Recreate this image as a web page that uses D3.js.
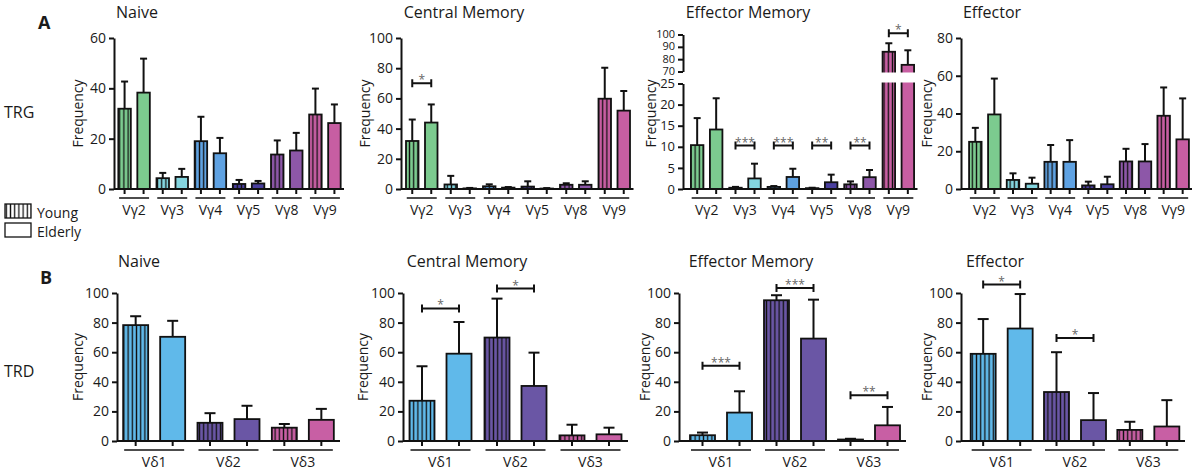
<!DOCTYPE html>
<html>
<head>
<meta charset="utf-8">
<title>TRG / TRD frequencies</title>
<script src="https://d3js.org/d3.v7.min.js"></script>
<style>
  body { margin: 0; background: #fff; }
  text { font-family: "Open Sans", "Noto Sans", sans-serif; fill: #1a1a1a; }
</style>
</head>
<body>
<div id="chart"></div>
<script>
// ---- data ----
const trgGenes = ["Vγ2", "Vγ3", "Vγ4", "Vγ5", "Vγ8", "Vγ9"];
const trdGenes = ["Vδ1", "Vδ2", "Vδ3"];
const trgColors = ["#7ccb8f", "#84d5df", "#5fa2e2", "#4a3f9e", "#8d57a8", "#c75ea2"];
const trdColors = ["#60b9ea", "#6a56a5", "#c85fa4"];

// TRG
const naiveTrgYoung      = [31.9, 4.3, 19.0, 2.0, 13.7, 29.6];
const naiveTrgYoungSd    = [10.8, 2.1, 9.7, 1.6, 5.6, 10.3];
const naiveTrgElderly    = [38.3, 4.8, 14.2, 2.2, 15.3, 26.2];
const naiveTrgElderlySd  = [13.5, 3.2, 6.1, 1.0, 7.0, 7.4];

const cmTrgYoung         = [31.8, 3.0, 1.8, 1.6, 2.8, 59.8];
const cmTrgYoungSd       = [14.2, 5.7, 1.3, 3.5, 1.0, 20.5];
const cmTrgElderly       = [44.0, 0.4, 0.9, 0.3, 2.8, 51.9];
const cmTrgElderlySd     = [12.0, 0.3, 0.4, 0.3, 2.3, 13.0];
const cmTrgSig           = [{ gene: "Vγ2", label: "*", at: 70 }];

const emTrgYoung         = [10.4, 0.3, 0.5, 0.2, 1.1, 86.0];
const emTrgYoungSd       = [6.4, 0.2, 0.2, 0.1, 0.7, 6.9];
const emTrgElderly       = [14.1, 2.5, 2.85, 1.6, 2.8, 75.4];
const emTrgElderlySd     = [7.4, 3.5, 1.95, 1.8, 1.7, 11.8];
const emTrgSig           = [
  { gene: "Vγ3", label: "***", at: 10.3 },
  { gene: "Vγ4", label: "***", at: 10.3 },
  { gene: "Vγ5", label: "**", at: 10.3 },
  { gene: "Vγ8", label: "**", at: 10.3 },
  { gene: "Vγ9", label: "*", at: 101 }
];

const effTrgYoung        = [25.0, 4.8, 14.4, 1.9, 14.6, 38.8];
const effTrgYoungSd      = [7.4, 3.5, 8.9, 2.0, 6.7, 15.0];
const effTrgElderly      = [39.5, 2.8, 14.4, 2.5, 14.6, 26.3];
const effTrgElderlySd    = [19.0, 3.2, 11.5, 4.0, 9.2, 21.7];

// TRD
const naiveTrdYoung      = [78.3, 12.3, 9.0];
const naiveTrdYoungSd    = [6.0, 6.5, 2.5];
const naiveTrdElderly    = [70.4, 14.8, 14.3];
const naiveTrdElderlySd  = [10.8, 9.0, 7.4];

const cmTrdYoung         = [27.2, 69.9, 3.8];
const cmTrdYoungSd       = [23.3, 26.3, 7.2];
const cmTrdElderly       = [59.0, 37.2, 4.5];
const cmTrdElderlySd     = [21.4, 22.5, 4.5];
const cmTrdSig           = [{ gene: "Vδ1", label: "*", at: 89.6 }, { gene: "Vδ2", label: "*", at: 103 }];

const emTrdYoung         = [3.9, 95.1, 1.0];
const emTrdYoungSd       = [1.8, 3.4, 0.5];
const emTrdElderly       = [19.2, 69.2, 10.6];
const emTrdElderlySd     = [14.4, 26.3, 12.4];
const emTrdSig           = [
  { gene: "Vδ1", label: "***", at: 50.8 },
  { gene: "Vδ2", label: "***", at: 103.4 },
  { gene: "Vδ3", label: "**", at: 30.9 }
];

const effTrdYoung        = [58.9, 33.1, 7.5];
const effTrdYoungSd      = [23.5, 26.9, 5.5];
const effTrdElderly      = [76.0, 14.1, 9.8];
const effTrdElderlySd    = [23.3, 18.3, 17.8];
const effTrdSig          = [{ gene: "Vδ1", label: "*", at: 105.7 }, { gene: "Vδ2", label: "*", at: 69.6 }];

// ---- layout ----
const rowA = { bottom: 189, top: 38, titleY: 18, barW: 12.5, off: 9.5, cap: 7, under: 15 };
const rowB = { bottom: 441, top: 293, titleY: 267, barW: 25, off: 18.5, cap: 11, under: 30 };

const panels = [
  { row: rowA, title: "Naive", genes: trgGenes, colors: trgColors, ymax: 60, step: 20,
    young: naiveTrgYoung, youngSd: naiveTrgYoungSd, elderly: naiveTrgElderly, elderlySd: naiveTrgElderlySd, sig: [],
    axisX: 114, x0: 115, x1: 344, titleX: 137, labelX: 78 },
  { row: rowA, title: "Central Memory", genes: trgGenes, colors: trgColors, ymax: 100, step: 20,
    young: cmTrgYoung, youngSd: cmTrgYoungSd, elderly: cmTrgElderly, elderlySd: cmTrgElderlySd, sig: cmTrgSig,
    axisX: 401, x0: 402.5, x1: 633.5, titleX: 464, labelX: 365 },
  { row: rowA, title: "Effector Memory", genes: trgGenes, colors: trgColors, broken: true,
    young: emTrgYoung, youngSd: emTrgYoungSd, elderly: emTrgElderly, elderlySd: emTrgElderlySd, sig: emTrgSig,
    axisX: 683, x0: 687.5, x1: 917.5, titleX: 748, labelX: 651 },
  { row: rowA, title: "Effector", genes: trgGenes, colors: trgColors, ymax: 80, step: 20,
    young: effTrgYoung, youngSd: effTrgYoungSd, elderly: effTrgElderly, elderlySd: effTrgElderlySd, sig: [],
    axisX: 961, x0: 966, x1: 1192, titleX: 992, labelX: 927 },
  { row: rowB, title: "Naive", genes: trdGenes, colors: trdColors, ymax: 100, step: 20,
    young: naiveTrdYoung, youngSd: naiveTrdYoungSd, elderly: naiveTrdElderly, elderlySd: naiveTrdElderlySd, sig: [],
    axisX: 117, x0: 117, x1: 340, titleX: 139, labelX: 78 },
  { row: rowB, title: "Central Memory", genes: trdGenes, colors: trdColors, ymax: 100, step: 20,
    young: cmTrdYoung, youngSd: cmTrdYoungSd, elderly: cmTrdElderly, elderlySd: cmTrdElderlySd, sig: cmTrdSig,
    axisX: 403, x0: 403, x1: 628, titleX: 467, labelX: 363 },
  { row: rowB, title: "Effector Memory", genes: trdGenes, colors: trdColors, ymax: 100, step: 20,
    young: emTrdYoung, youngSd: emTrdYoungSd, elderly: emTrdElderly, elderlySd: emTrdElderlySd, sig: emTrdSig,
    axisX: 679, x0: 684, x1: 906, titleX: 751, labelX: 645 },
  { row: rowB, title: "Effector", genes: trdGenes, colors: trdColors, ymax: 100, step: 20,
    young: effTrdYoung, youngSd: effTrdYoungSd, elderly: effTrdElderly, elderlySd: effTrdElderlySd, sig: effTrdSig,
    axisX: 961, x0: 965, x1: 1185, titleX: 995, labelX: 927 }
];

const svg = d3.select("#chart").append("svg")
  .attr("width", 1196).attr("height", 470);
const defs = svg.append("defs");

function stripePattern(id, color) {
  const p = defs.append("pattern")
    .attr("id", id)
    .attr("patternUnits", "userSpaceOnUse")
    .attr("width", 4.2).attr("height", 10);
  p.append("rect").attr("width", 4.2).attr("height", 10).attr("fill", color);
  p.append("line")
    .attr("x1", 2.1).attr("x2", 2.1).attr("y1", 0).attr("y2", 10)
    .attr("stroke", "#111").attr("stroke-width", 1.3);
  return "url(#" + id + ")";
}

const patterns = {};
trgColors.concat(trdColors).forEach(function(c) {
  patterns[c] = stripePattern("st" + c.slice(1), c);
});
const whiteStripes = stripePattern("stwhite", "#fff");

function styleAxis(size) {
  return function(sel) {
    sel.selectAll("path, line").attr("stroke", "#111").attr("stroke-width", 2);
    sel.selectAll("text").attr("font-size", size).attr("fill", "#1a1a1a");
  };
}

function drawPanel(p) {
  const r = p.row;
  const g = svg.append("g");
  const x = d3.scaleBand().domain(p.genes).range([p.x0, p.x1]);
  const cx = function(gene) { return x(gene) + x.bandwidth() / 2; };

  let y, lower, upper;
  if (p.broken) {
    lower = d3.scaleLinear().domain([0, 25]).range([r.bottom, 83.5]);
    upper = d3.scaleLinear().domain([70, 100]).range([71.5, 34.5]);
    y = function(v) { return v <= 25 ? lower(v) : (v >= 70 ? upper(v) : 78); };
  } else {
    y = d3.scaleLinear().domain([0, p.ymax]).range([r.bottom, r.top]);
  }

  const rows = [];
  p.genes.forEach(function(gene, i) {
    rows.push({ gene: gene, grp: "young", mean: p.young[i], sd: p.youngSd[i], color: p.colors[i], dx: -r.off });
    rows.push({ gene: gene, grp: "elderly", mean: p.elderly[i], sd: p.elderlySd[i], color: p.colors[i], dx: r.off });
  });

  // error bars (upper only)
  const err = g.append("g").attr("stroke", "#111").attr("stroke-width", 2);
  err.selectAll("line.v").data(rows).enter().append("line")
    .attr("x1", function(d) { return cx(d.gene) + d.dx; })
    .attr("x2", function(d) { return cx(d.gene) + d.dx; })
    .attr("y1", function(d) { return y(d.mean); })
    .attr("y2", function(d) { return y(d.mean + d.sd); });
  err.selectAll("line.c").data(rows).enter().append("line")
    .attr("x1", function(d) { return cx(d.gene) + d.dx - r.cap / 2; })
    .attr("x2", function(d) { return cx(d.gene) + d.dx + r.cap / 2; })
    .attr("y1", function(d) { return y(d.mean + d.sd); })
    .attr("y2", function(d) { return y(d.mean + d.sd); });

  // bars
  g.append("g").selectAll("rect").data(rows).enter().append("rect")
    .attr("x", function(d) { return cx(d.gene) + d.dx - r.barW / 2; })
    .attr("width", r.barW)
    .attr("y", function(d) { return y(d.mean); })
    .attr("height", function(d) { return Math.max(0.5, r.bottom - y(d.mean)); })
    .attr("fill", function(d) { return d.grp === "young" ? patterns[d.color] : d.color; })
    .attr("stroke", "#111").attr("stroke-width", 1.8);

  // white gap across broken bars
  if (p.broken) {
    g.append("g").selectAll("rect").data(rows.filter(function(d) { return d.mean > 25; })).enter().append("rect")
      .attr("x", function(d) { return cx(d.gene) + d.dx - r.barW / 2 - 2; })
      .attr("width", r.barW + 4)
      .attr("y", upper(70) + 1)
      .attr("height", lower(25) - upper(70) - 2)
      .attr("fill", "#fff");
  }

  // y axis
  if (p.broken) {
    g.append("g").attr("transform", "translate(" + p.axisX + ",0)")
      .call(d3.axisLeft(lower).tickValues([0, 5, 10, 15, 20, 25]).tickSize(5).tickSizeOuter(0))
      .call(styleAxis(13));
    g.append("g").attr("transform", "translate(" + p.axisX + ",0)")
      .call(d3.axisLeft(upper).tickValues([70, 80, 90, 100]).tickSize(5).tickSizeOuter(0))
      .call(styleAxis(11))
      .selectAll("text").attr("dy", "0.28em");
  } else {
    g.append("g").attr("transform", "translate(" + p.axisX + ",0)")
      .call(d3.axisLeft(y).tickValues(d3.range(0, p.ymax + 1, p.step)).tickSize(5).tickSizeOuter(0))
      .call(styleAxis(14));
  }

  // x baseline with ticks at each bar
  g.append("line")
    .attr("x1", p.axisX).attr("x2", p.x1)
    .attr("y1", r.bottom).attr("y2", r.bottom)
    .attr("stroke", "#111").attr("stroke-width", 2);
  g.append("g").selectAll("line").data(rows).enter().append("line")
    .attr("x1", function(d) { return cx(d.gene) + d.dx; })
    .attr("x2", function(d) { return cx(d.gene) + d.dx; })
    .attr("y1", r.bottom).attr("y2", r.bottom + 5)
    .attr("stroke", "#111").attr("stroke-width", 2);

  // category underline + label
  g.append("g").selectAll("line").data(p.genes).enter().append("line")
    .attr("x1", function(d) { return cx(d) - r.under; })
    .attr("x2", function(d) { return cx(d) + r.under; })
    .attr("y1", r.bottom + 9).attr("y2", r.bottom + 9)
    .attr("stroke", "#111").attr("stroke-width", 1.5);
  g.append("g").selectAll("text").data(p.genes).enter().append("text")
    .attr("x", cx).attr("y", r.bottom + 26)
    .attr("text-anchor", "middle").attr("font-size", 14)
    .text(function(d) { return d; });

  // significance brackets
  const sg = g.append("g").selectAll("g").data(p.sig).enter().append("g");
  sg.append("path")
    .attr("d", function(d) {
      const a = cx(d.gene) - r.off, b = cx(d.gene) + r.off, yy = y(d.at);
      return "M" + a + "," + (yy - 4) + "V" + (yy + 4) + "M" + a + "," + yy + "H" + b +
             "M" + b + "," + (yy - 4) + "V" + (yy + 4);
    })
    .attr("stroke", "#111").attr("stroke-width", 2).attr("fill", "none");
  sg.append("text")
    .attr("x", function(d) { return cx(d.gene); })
    .attr("y", function(d) { return y(d.at) + 1; })
    .attr("text-anchor", "middle").attr("font-size", 12)
    .style("fill", "#666")
    .text(function(d) { return d.label; });

  // title and axis label
  g.append("text")
    .attr("x", p.titleX).attr("y", r.titleY)
    .attr("text-anchor", "middle").attr("font-size", 16)
    .text(p.title);
  g.append("text")
    .attr("transform", "translate(" + p.labelX + "," + ((r.top + r.bottom) / 2) + ") rotate(-90)")
    .attr("text-anchor", "middle").attr("dy", "0.35em").attr("font-size", 14)
    .text("Frequency");
}

panels.forEach(drawPanel);

// row letters and row names
svg.append("text").attr("x", 38).attr("y", 29).attr("font-size", 18).attr("font-weight", "bold").text("A");
svg.append("text").attr("x", 40).attr("y", 284).attr("font-size", 18).attr("font-weight", "bold").text("B");
svg.append("text").attr("x", 4).attr("y", 118).attr("font-size", 16).text("TRG");
svg.append("text").attr("x", 4).attr("y", 377).attr("font-size", 16).text("TRD");

// legend
const legend = svg.append("g");
legend.append("rect").attr("x", 5).attr("y", 204).attr("width", 26).attr("height", 14)
  .attr("fill", whiteStripes).attr("stroke", "#111").attr("stroke-width", 1.3);
legend.append("rect").attr("x", 5).attr("y", 223).attr("width", 26).attr("height", 14)
  .attr("fill", "#fff").attr("stroke", "#111").attr("stroke-width", 1.3);
legend.append("text").attr("x", 37).attr("y", 218).attr("font-size", 14).text("Young");
legend.append("text").attr("x", 37).attr("y", 237).attr("font-size", 14).text("Elderly");
</script>
</body>
</html>
